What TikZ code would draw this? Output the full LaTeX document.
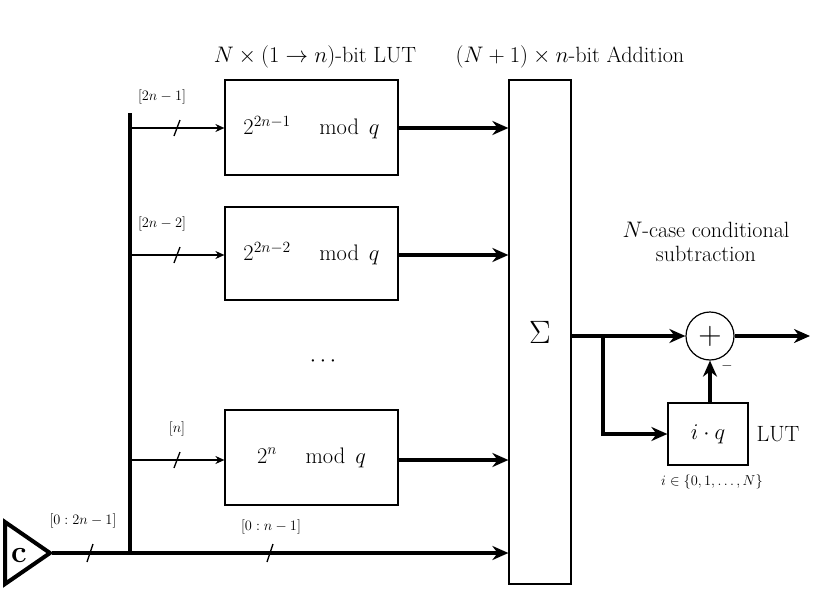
\documentclass[tikz,border=0pt]{standalone}
\usepackage{graphicx}
\usetikzlibrary{arrows.meta}
\newcommand{\Lb}[1]{\scalebox{1.3}{#1}}
\newcommand{\Sb}[1]{\scalebox{1.2}{#1}}
\begin{document}
\begin{tikzpicture}[x=1pt,y=-1pt,
  thick bus/.style={line width=4pt},
  bigarrow/.style={line width=4pt,-{Stealth[length=16pt,width=14pt]}},
  smallarrow/.style={line width=1.3pt,-{Stealth[length=9pt,width=8pt]}},
  blk/.style={draw,line width=1.2pt,inner sep=0pt},
  lbl/.style={font=\fontsize{17}{20}\selectfont},
  sml/.style={font=\fontsize{13}{15}\selectfont},
  tick/.style={line width=1.3pt}]
\useasboundingbox (0,0) rectangle (830,597);
% boxes
\node[blk,minimum width=173pt,minimum height=95pt,lbl] (b1) at (311.5,127.5) {\Lb{$2^{2n-1}\quad\bmod\, q$}};
\node[blk,minimum width=173pt,minimum height=93pt,lbl] (b2) at (311.5,253.5) {\Lb{$2^{2n-2}\quad\bmod\, q$}};
\node[blk,minimum width=173pt,minimum height=95pt,lbl] (b3) at (311.5,457.5) {\Lb{$2^{n}\quad\bmod\, q$}};
\node[blk,minimum width=62pt,minimum height=504pt,font=\fontsize{30}{34}\selectfont] (sig) at (540,332) {\Lb{$\Sigma$}};
\node[lbl] at (323,362) {\Lb{$\cdots$}};
% titles
\node[lbl] at (315,57) {\Lb{$N\times(1\to n)$-bit LUT}};
\node[lbl] at (570,57) {\Lb{$(N+1)\times n$-bit Addition}};
\node[lbl] at (706,230) {\Lb{$N$-case conditional}};
\node[lbl] at (706,254) {\Lb{subtraction}};
% input triangle
\draw[line width=4pt,line join=miter] (5,522) -- (50,553) -- (5,584) -- cycle;
\node[font=\fontsize{24}{26}\selectfont\bfseries] at (19,556) {\Lb{c}};
\coordinate (tip) at (52,553);
\coordinate (bt) at (130,113);
\coordinate (bb) at (130,553);
\draw[thick bus] (bt) -- (bb);
\draw[bigarrow] (tip) -- (sig.west |- tip);
\draw[tick] (87,562) -- (93,544);
\draw[tick] (267,562) -- (273,544);
\node[sml] at (83,521) {\Sb{$[0:2n-1]$}};
\node[sml] at (271,527) {\Sb{$[0:n-1]$}};
% branches
\foreach \b/\y/\l/\lx in {b1/128/{[2n-1]}/162,b2/255/{[2n-2]}/162,b3/460/{[n]}/177}{
  \draw[smallarrow] (130,\y) -- (\b.west |- 0,\y);
  \draw[tick] (174,\y+8) -- (180,\y-8);
  \node[sml] at (\lx,\y-31) {\Sb{$\l$}};
  \draw[bigarrow] (\b.east |- 0,\y) -- (sig.west |- 0,\y);
}
% subtraction
\node[draw,circle,line width=1.2pt,minimum size=48pt,inner sep=0pt,font=\fontsize{26}{28}\selectfont] (add) at (710,336) {\Lb{$+$}};
\node[blk,minimum width=80pt,minimum height=62pt,lbl] (lut) at (708,434) {\Lb{$i\cdot q$}};
\node[lbl,anchor=west] at (753,434) {\Lb{LUT}};
\node[sml] at (712,482) {\Sb{$i\in\{0,1,\ldots,N\}$}};
\node[sml] at (727,366) {\Sb{$-$}};
\coordinate (split) at (603,336);
\coordinate (out) at (810,336);
\draw[bigarrow] (sig.east |- add) -- (add.west);
\draw[bigarrow] (add.east) -- (out);
\draw[bigarrow] (split) |- (lut.west);
\draw[bigarrow] (lut.north -| add) -- (add.south);
\end{tikzpicture}
\end{document}
